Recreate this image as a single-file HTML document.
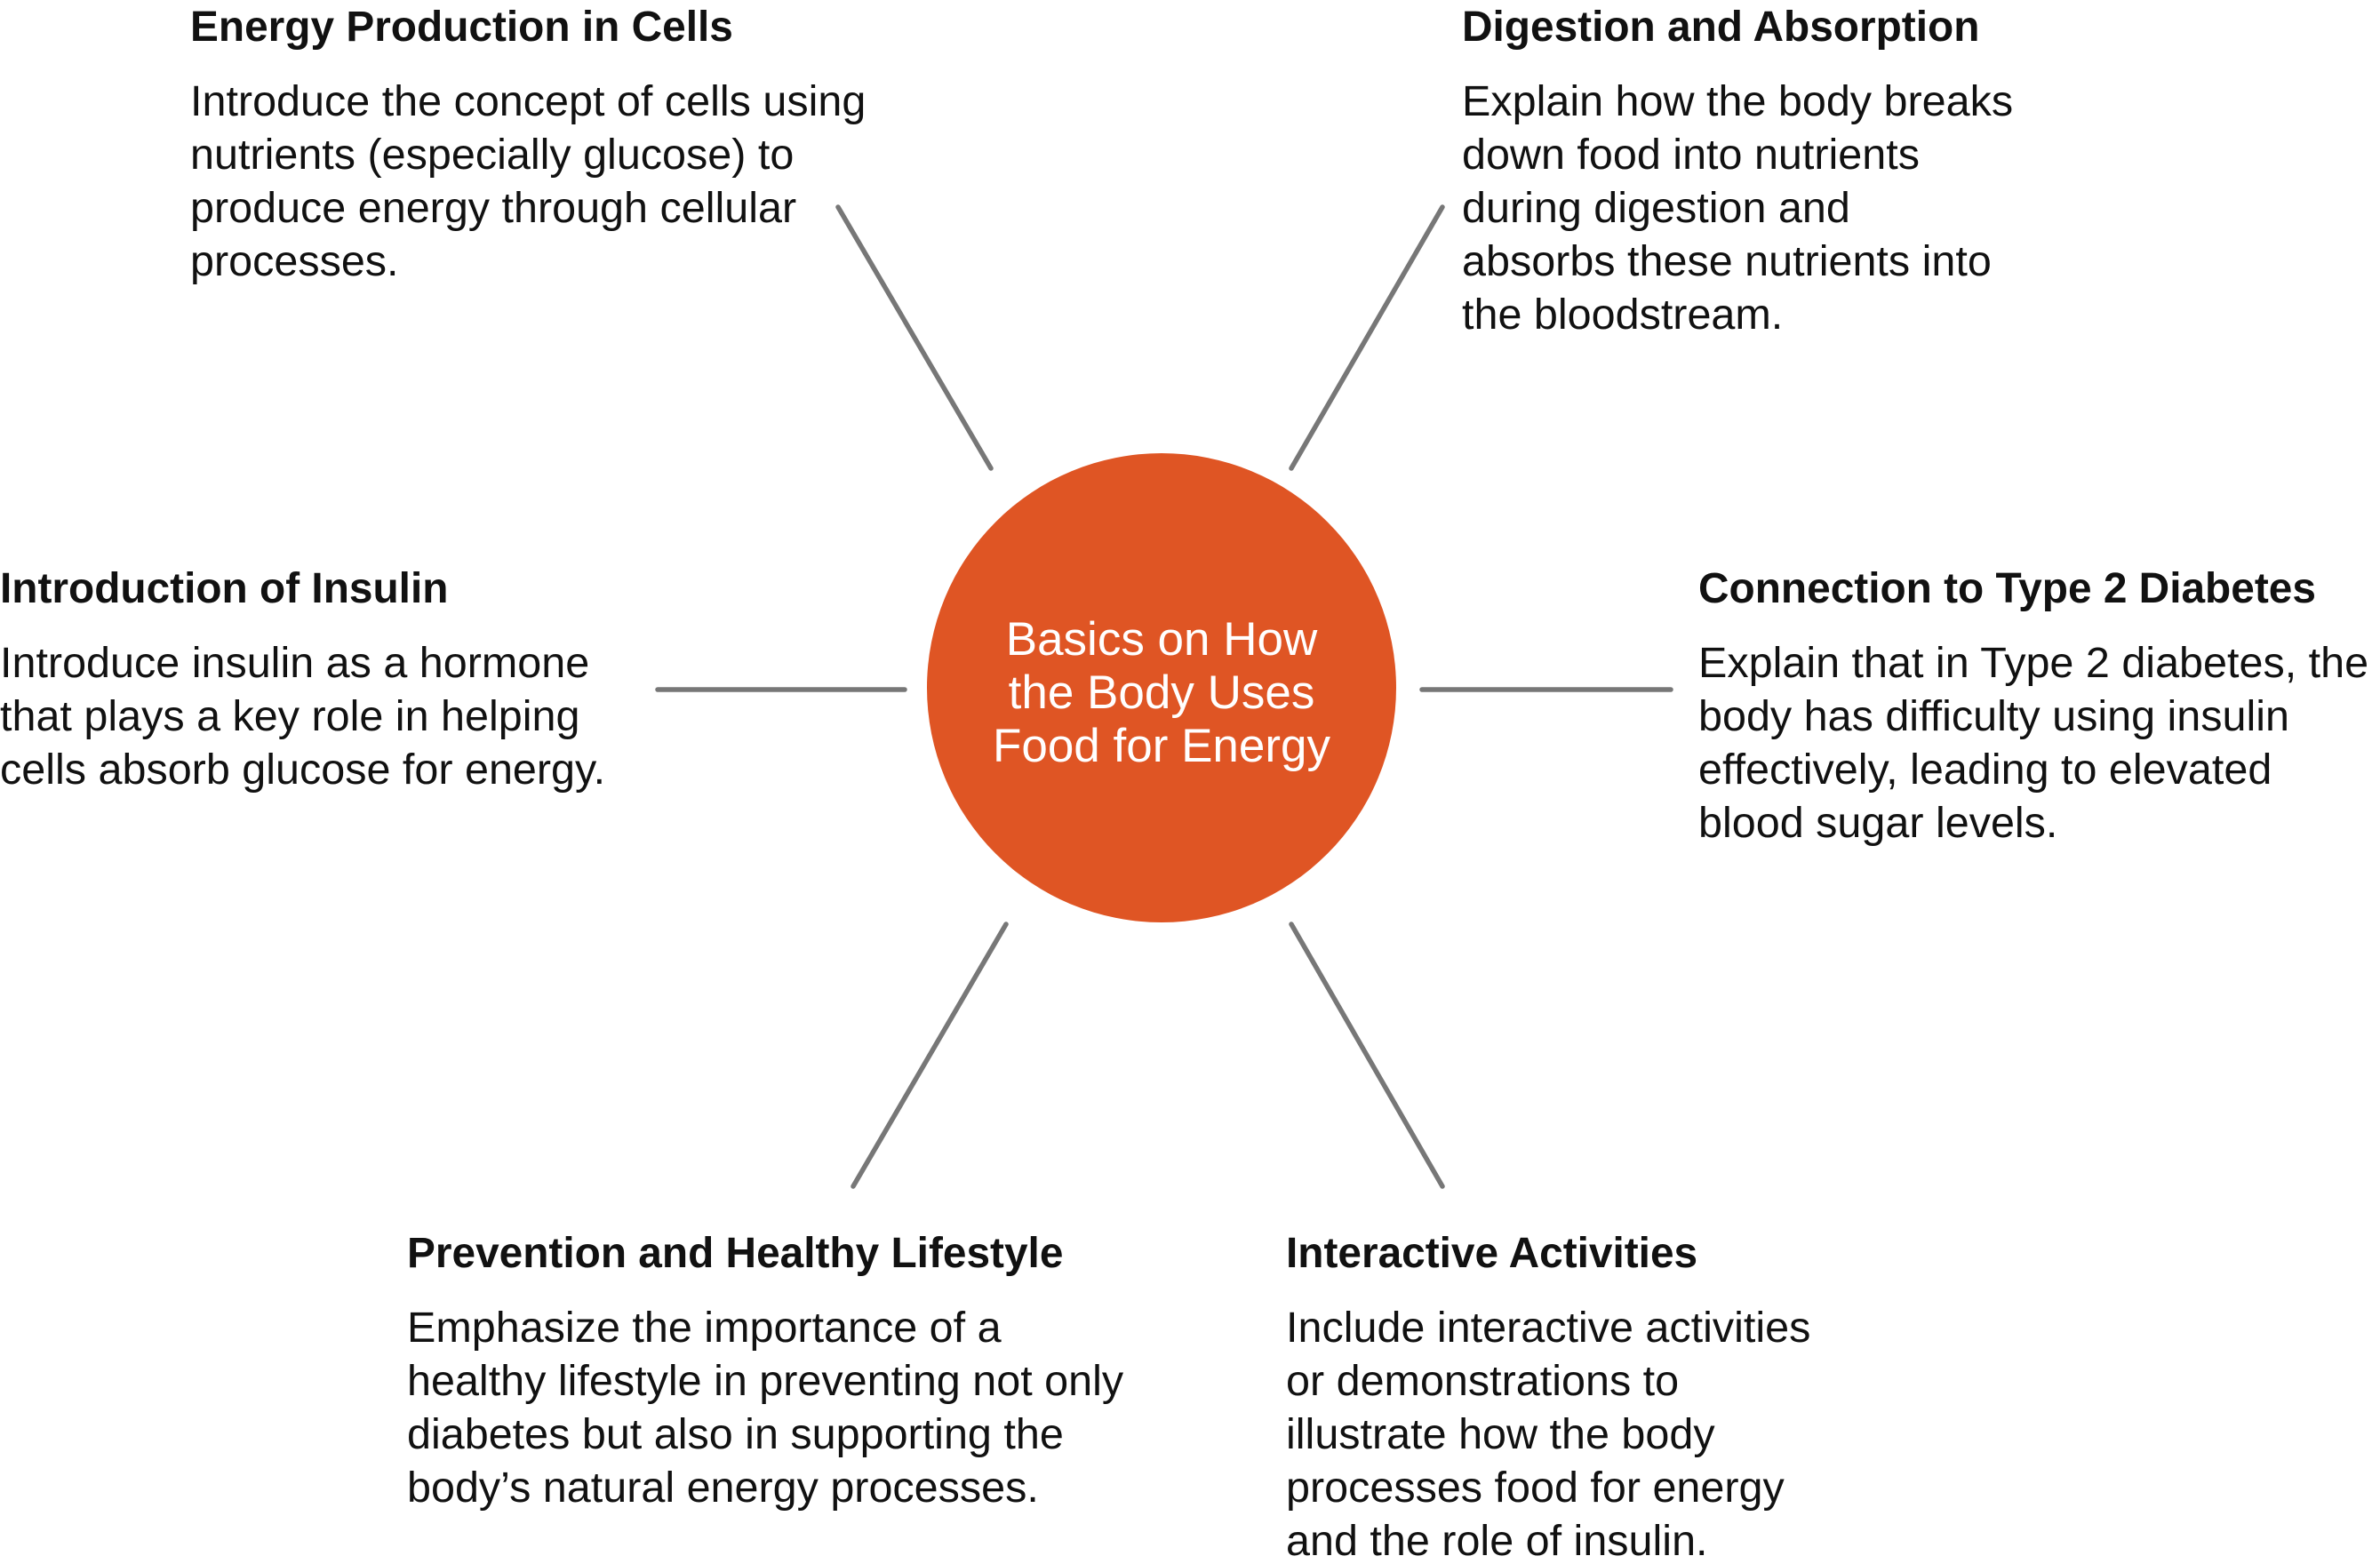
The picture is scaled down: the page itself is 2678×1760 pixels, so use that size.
<!DOCTYPE html>
<html><head><meta charset="utf-8"><style>
html,body{margin:0;padding:0;background:#fff;}
svg{display:block;font-family:"Liberation Sans",Arial,sans-serif;}
.t{font-weight:bold;font-size:47.8px;fill:#111;}
.b{font-size:48.5px;fill:#111;}
.c{font-size:53px;fill:#fff;text-anchor:middle;}
line{stroke:#777;stroke-width:5.5;stroke-linecap:round;}
</style></head><body>
<svg width="2678" height="1760" viewBox="0 0 2678 1760">
<line x1="943" y1="233" x2="1115" y2="527"/>
<line x1="1623" y1="233" x2="1453" y2="527"/>
<line x1="740" y1="776" x2="1018" y2="776"/>
<line x1="1600" y1="776" x2="1880" y2="776"/>
<line x1="1132" y1="1040" x2="960" y2="1335"/>
<line x1="1453" y1="1040" x2="1623" y2="1335"/>
<circle cx="1307" cy="774" r="264" fill="#df5524"/>
<text class="c"><tspan x="1307" y="737">Basics on How</tspan><tspan x="1307" y="797">the Body Uses</tspan><tspan x="1307" y="857">Food for Energy</tspan></text>

<g>
<text class="t" x="214" y="46">Energy Production in Cells</text>
<text class="b"><tspan x="214" y="130">Introduce the concept of cells using</tspan><tspan x="214" y="190">nutrients (especially glucose) to</tspan><tspan x="214" y="250">produce energy through cellular</tspan><tspan x="214" y="310">processes.</tspan></text>
</g>
<g>
<text class="t" x="1645" y="46">Digestion and Absorption</text>
<text class="b"><tspan x="1645" y="130">Explain how the body breaks</tspan><tspan x="1645" y="190">down food into nutrients</tspan><tspan x="1645" y="250">during digestion and</tspan><tspan x="1645" y="310">absorbs these nutrients into</tspan><tspan x="1645" y="370">the bloodstream.</tspan></text>
</g>
<g>
<text class="t" x="0" y="678">Introduction of Insulin</text>
<text class="b"><tspan x="0" y="762">Introduce insulin as a hormone</tspan><tspan x="0" y="822">that plays a key role in helping</tspan><tspan x="0" y="882">cells absorb glucose for energy.</tspan></text>
</g>
<g>
<text class="t" x="1911" y="678">Connection to Type 2 Diabetes</text>
<text class="b"><tspan x="1911" y="762">Explain that in Type 2 diabetes, the</tspan><tspan x="1911" y="822">body has difficulty using insulin</tspan><tspan x="1911" y="882">effectively, leading to elevated</tspan><tspan x="1911" y="942">blood sugar levels.</tspan></text>
</g>
<g>
<text class="t" x="458" y="1426">Prevention and Healthy Lifestyle</text>
<text class="b"><tspan x="458" y="1510">Emphasize the importance of a</tspan><tspan x="458" y="1570">healthy lifestyle in preventing not only</tspan><tspan x="458" y="1630">diabetes but also in supporting the</tspan><tspan x="458" y="1690">body’s natural energy processes.</tspan></text>
</g>
<g>
<text class="t" x="1447" y="1426">Interactive Activities</text>
<text class="b"><tspan x="1447" y="1510">Include interactive activities</tspan><tspan x="1447" y="1570">or demonstrations to</tspan><tspan x="1447" y="1630">illustrate how the body</tspan><tspan x="1447" y="1690">processes food for energy</tspan><tspan x="1447" y="1750">and the role of insulin.</tspan></text>
</g>
</svg>
</body></html>
